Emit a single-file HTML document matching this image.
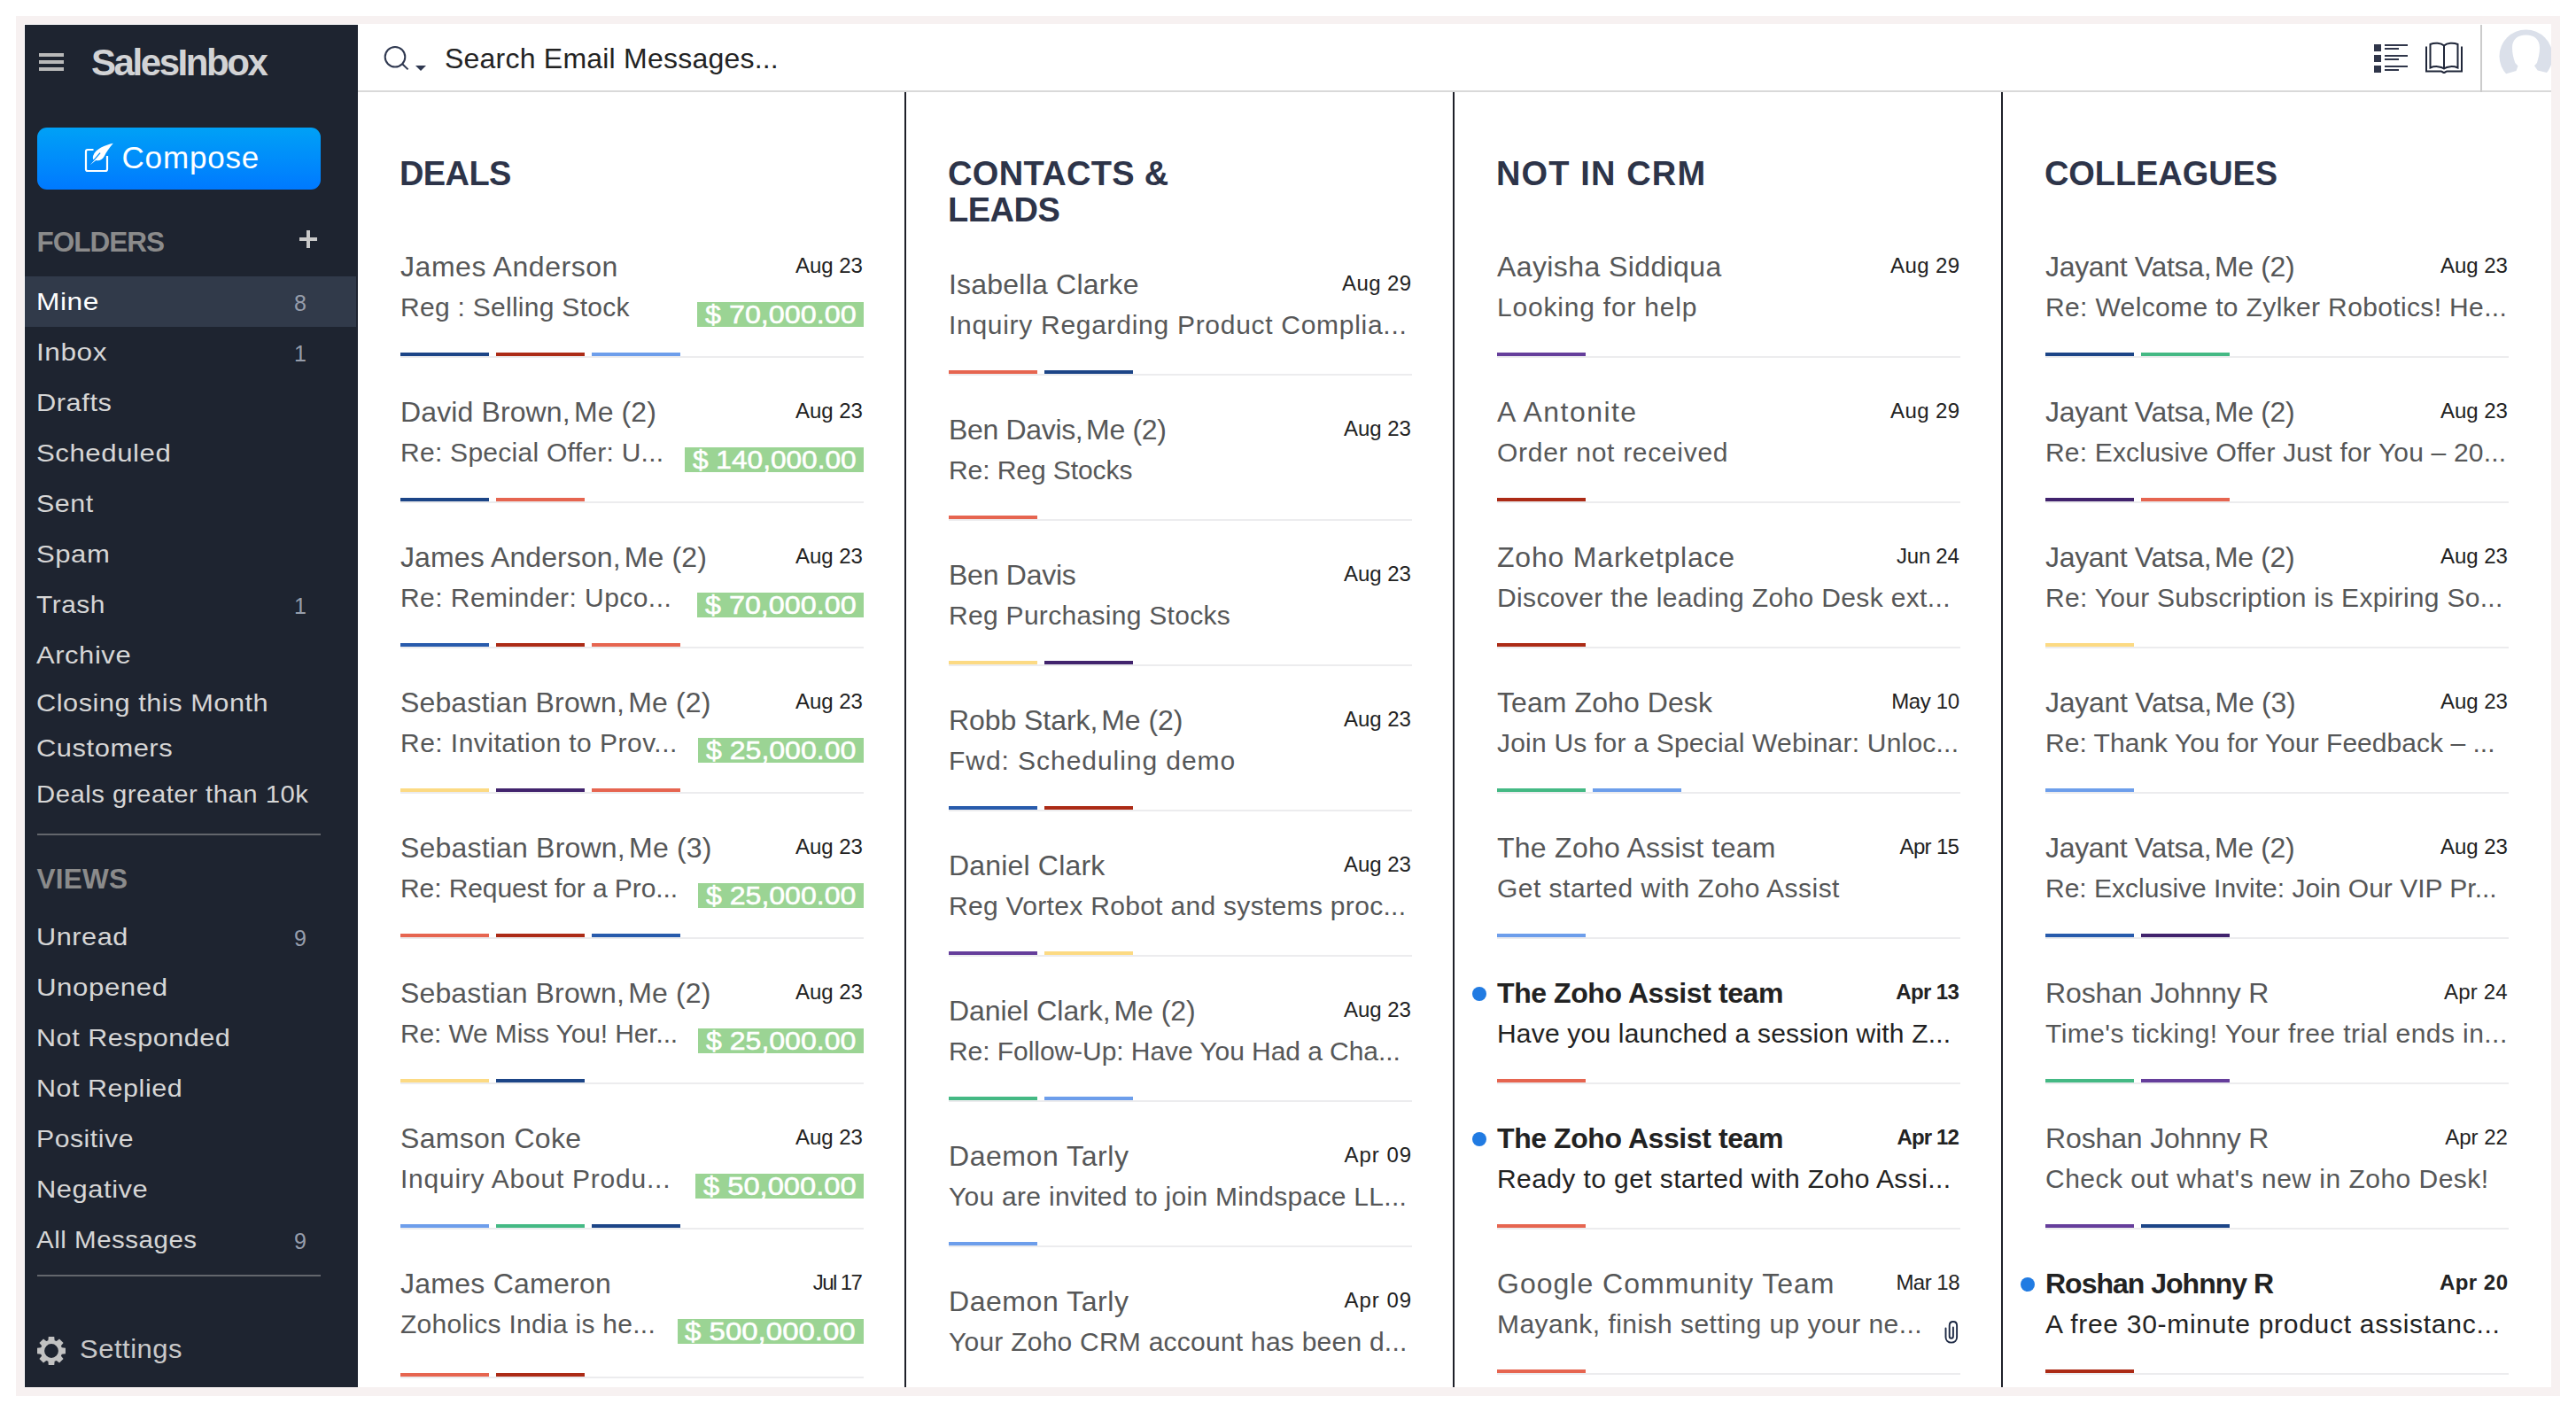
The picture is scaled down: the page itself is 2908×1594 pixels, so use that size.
<!DOCTYPE html>
<html lang="en"><head><meta charset="utf-8"><title>SalesInbox</title>
<style>
*{box-sizing:border-box}
html,body{margin:0;padding:0}
body{width:2908px;height:1594px;background:#fff;position:relative;overflow:hidden;font-family:"Liberation Sans",sans-serif}
.frame{position:absolute;left:18px;top:18px;width:2872px;height:1558px;background:#f7f1f1}
.app{position:absolute;left:0;top:0;width:2908px;height:1594px;clip-path:inset(27px 28px 28px 27px);background:#fff}
.sidebar{position:absolute;left:28px;top:28px;width:376px;height:1538px;background:#1e2430}
.t{position:absolute;white-space:nowrap;line-height:1}
.r,.abs,.dot{position:absolute}
.logo{font-size:42px;font-weight:bold;color:#d2d3d5}
.compose{position:absolute;left:42px;top:144px;width:320px;height:70px;border-radius:11px;background:linear-gradient(#00a1f6,#0079ff)}
.composeT{font-size:35px;color:#fff}
.sec{font-size:31.5px;font-weight:bold;color:#8b8b8b}
.nav{font-size:28px;color:#d6d6d6;letter-spacing:.5px;transform-origin:0 0}
.nav.on{color:#fff}
.nav.set{font-size:29px;color:#c9c9c9}
.cnt{font-size:25px;color:#969dab}
.search{font-size:32px;color:#232323}
.ttl{font-size:38px;font-weight:bold;color:#2d3449}
.nm{font-size:32px;color:#565758}
.sj{font-size:30px;color:#565758}
.dt{font-size:24px;color:#222}
.ur{font-weight:bold;color:#222}
.ur2{color:#222}
.g{word-spacing:-4.9px}
.dot{width:16px;height:16px;border-radius:8px;background:#217be2}
.amt{position:absolute;height:28px;line-height:28px;padding:0 0 0 8.5px;background:#9bd494;color:#fff;font-size:29px;white-space:nowrap;-webkit-text-stroke:.55px #fff}
.amt span{display:inline-block;transform-origin:0 50%}
</style></head>
<body>
<div class="frame"></div>
<div class="app">
<div class="sidebar"></div>
<div class="r" style="left:44px;top:60px;width:28px;height:4px;background:#b9b9b9"></div>
<div class="r" style="left:44px;top:68px;width:28px;height:4px;background:#b9b9b9"></div>
<div class="r" style="left:44px;top:76px;width:28px;height:4px;background:#b9b9b9"></div>
<div class="t logo" style="left:103px;top:50.45px;letter-spacing:-2.44px">SalesInbox</div>
<div class="compose"></div>
<svg class="abs" style="left:92px;top:158px" width="40" height="40" viewBox="92 158 40 40">
<path d="M105.5 169H99a2 2 0 0 0-2 2v20a2 2 0 0 0 2 2h20a2 2 0 0 0 2-2v-15" fill="none" stroke="#fff" stroke-width="2.2"/>
<path d="M127.8 161.8C119 163.5 107.5 168.5 105.3 175.5C104.6 177.8 104.8 179.2 105.6 180.3L112.5 172.2L113.6 172.9L102 186L108.2 180.900C111.5 182.3 115.6 180.3 117.8 176.2C120 172 123.5 166.5 127.8 161.8Z" fill="#fff"/>
</svg>
<div class="t composeT" style="left:137.5px;top:160.37px;letter-spacing:0.83px">Compose</div>
<div class="t sec" style="left:41.5px;top:258.34px;letter-spacing:-1.00px">FOLDERS</div>
<div class="r" style="left:338px;top:268px;width:20px;height:4px;background:#c9c9c9"></div>
<div class="r" style="left:346px;top:260px;width:4px;height:20px;background:#c9c9c9"></div>
<div class="r" style="left:28px;top:312px;width:374px;height:57px;background:#313a4a"></div>
<div class="t nav on" style="left:41px;top:327.00px;transform:scaleX(1.1311)">Mine</div>
<div class="t cnt" style="right:2562px;top:329.54px">8</div>
<div class="t nav" style="left:41px;top:384.00px;transform:scaleX(1.1286)">Inbox</div>
<div class="t cnt" style="right:2562px;top:386.54px">1</div>
<div class="t nav" style="left:41px;top:441.00px;transform:scaleX(1.1003)">Drafts</div>
<div class="t nav" style="left:41px;top:498.00px;transform:scaleX(1.1128)">Scheduled</div>
<div class="t nav" style="left:41px;top:555.00px;transform:scaleX(1.0872)">Sent</div>
<div class="t nav" style="left:41px;top:612.00px;transform:scaleX(1.1096)">Spam</div>
<div class="t nav" style="left:41px;top:669.00px;transform:scaleX(1.0682)">Trash</div>
<div class="t cnt" style="right:2562px;top:671.54px">1</div>
<div class="t nav" style="left:41px;top:726.00px;transform:scaleX(1.1063)">Archive</div>
<div class="t nav" style="left:41px;top:780.00px;transform:scaleX(1.0954)">Closing this Month</div>
<div class="t nav" style="left:41px;top:831.00px;transform:scaleX(1.1023)">Customers</div>
<div class="t nav" style="left:41px;top:882.50px;transform:scaleX(1.0446)">Deals greater than 10k</div>
<div class="r" style="left:42px;top:941px;width:320px;height:2px;background:#63666c"></div>
<div class="t sec" style="left:41.5px;top:977.34px;letter-spacing:0.25px">VIEWS</div>
<div class="t nav" style="left:41px;top:1044.00px;transform:scaleX(1.0950)">Unread</div>
<div class="t cnt" style="right:2562px;top:1046.54px">9</div>
<div class="t nav" style="left:41px;top:1101.00px;transform:scaleX(1.1154)">Unopened</div>
<div class="t nav" style="left:41px;top:1158.00px;transform:scaleX(1.0910)">Not Responded</div>
<div class="t nav" style="left:41px;top:1215.00px;transform:scaleX(1.0881)">Not Replied</div>
<div class="t nav" style="left:41px;top:1272.00px;transform:scaleX(1.0775)">Positive</div>
<div class="t nav" style="left:41px;top:1329.00px;transform:scaleX(1.1028)">Negative</div>
<div class="t nav" style="left:41px;top:1386.00px;transform:scaleX(1.0526)">All Messages</div>
<div class="t cnt" style="right:2562px;top:1388.54px">9</div>
<div class="r" style="left:42px;top:1439px;width:320px;height:2px;background:#63666c"></div>
<svg class="abs" style="left:38px;top:1505px" width="40" height="40" viewBox="38 1505 40 40"><path d="M54.37 1513.25 L54.76 1509.02 L61.24 1509.02 L61.63 1513.25 L63.74 1514.12 L67.01 1511.41 L71.59 1515.99 L68.88 1519.26 L69.75 1521.37 L73.98 1521.76 L73.98 1528.24 L69.75 1528.63 L68.88 1530.74 L71.59 1534.01 L67.01 1538.59 L63.74 1535.88 L61.63 1536.75 L61.24 1540.98 L54.76 1540.98 L54.37 1536.75 L52.26 1535.88 L48.99 1538.59 L44.41 1534.01 L47.12 1530.74 L46.25 1528.63 L42.02 1528.24 L42.02 1521.76 L46.25 1521.37 L47.12 1519.26 L44.41 1515.99 L48.99 1511.41 L52.26 1514.12Z M65.90 1525.00 A7.9 7.9 0 1 0 50.10 1525.00 A7.9 7.9 0 1 0 65.90 1525.00Z" fill="#c2c2c2" fill-rule="evenodd"/></svg>
<div class="t nav set" style="left:90px;top:1509.05px;transform:scaleX(1.0669)">Settings</div>
<div class="r" style="left:404px;top:102px;width:2476px;height:2px;background:#d9d9d9"></div>
<svg class="abs" style="left:430px;top:48px" width="56" height="36" viewBox="430 48 56 36">
<circle cx="446" cy="64.3" r="11.3" fill="none" stroke="#2f3850" stroke-width="2"/>
<path d="M454.2 72.3L460.6 78.4" stroke="#2f3850" stroke-width="2" fill="none"/>
<path d="M469 74H481L475 80Z" fill="#2f3850"/>
</svg>
<div class="t search" style="left:502px;top:50.41px;letter-spacing:0.22px">Search Email Messages...</div>
<div class="r" style="left:2680px;top:50px;width:8px;height:8px;background:#30364a"></div>
<div class="r" style="left:2692px;top:50px;width:26px;height:2px;background:#30364a"></div>
<div class="r" style="left:2692px;top:54px;width:16px;height:2px;background:#30364a"></div>
<div class="r" style="left:2680px;top:62px;width:8px;height:8px;background:#30364a"></div>
<div class="r" style="left:2692px;top:62px;width:26px;height:2px;background:#30364a"></div>
<div class="r" style="left:2692px;top:66px;width:16px;height:2px;background:#30364a"></div>
<div class="r" style="left:2680px;top:74px;width:8px;height:8px;background:#30364a"></div>
<div class="r" style="left:2692px;top:74px;width:26px;height:2px;background:#30364a"></div>
<div class="r" style="left:2692px;top:78px;width:16px;height:2px;background:#30364a"></div>
<svg class="abs" style="left:2734px;top:44px" width="50" height="44" viewBox="2734 44 50 44">
<g fill="none" stroke="#1f2639" stroke-width="2">
<path d="M2759 51.5C2755.5 48.3 2748.5 48 2743.5 50V76.5C2748.500 74.3 2755.5 74.8 2759 77.5C2762.5 74.8 2769.5 74.3 2774.5 76.500V50C2769.500 48 2762.5 48.300 2759 51.5Z"/>
<path d="M2759 51.5V77.5"/>
<path d="M2739 52.500V80.500H2755.500C2757.2 80.5 2757.800 82 2759 82C2760.200 82 2760.800 80.500 2762.500 80.500H2779V52.500"/>
</g></svg>
<div class="r" style="left:2800px;top:28px;width:2px;height:76px;background:#cbcbcb"></div>
<svg class="abs" style="left:2818px;top:30px" width="70" height="72" viewBox="2818 30 70 72">
<circle cx="2851.500" cy="63.500" r="30" fill="#dbe0ea"/>
<path d="M2836 54C2836 44.500 2842 39.600 2851.500 39.600C2861 39.600 2867 44.500 2867 54C2867 60 2865.500 66 2863.900 71L2861 74.300L2864.700 79.400L2875 81.900L2882 96H2820L2829.300 83.200L2840.500 80L2842.500 74.500L2839.300 71C2837.500 66 2836 60 2836 54Z" fill="#fff"/>
</svg>
<div class="r" style="left:1021px;top:104px;width:2px;height:1462px;background:#1e2029"></div>
<div class="r" style="left:1640px;top:104px;width:2px;height:1462px;background:#1e2029"></div>
<div class="r" style="left:2259px;top:104px;width:2px;height:1462px;background:#1e2029"></div>
<div class="t ttl" style="left:451px;top:176.83px;letter-spacing:-0.60px">DEALS</div>
<div class="t ttl" style="left:1070px;top:176.83px;letter-spacing:0.33px">CONTACTS &amp;</div>
<div class="t ttl" style="left:1070px;top:218.33px;letter-spacing:-0.50px">LEADS</div>
<div class="t ttl" style="left:1689px;top:176.83px;letter-spacing:1.13px">NOT IN CRM</div>
<div class="t ttl" style="left:2308px;top:176.83px;letter-spacing:-0.08px">COLLEAGUES</div>
<div class="t nm" style="left:452px;top:284.91px;letter-spacing:0.54px">James Anderson</div>
<div class="t sj" style="left:452px;top:331.61px;letter-spacing:0.28px">Reg : Selling Stock</div>
<div class="t dt" style="left:898.1px;top:287.68px;letter-spacing:-0.08px">Aug 23</div>
<div class="amt" style="right:1933px;top:341px;width:188px"><span style="transform:scaleX(1.1137)">$ 70,000.00</span></div>
<div class="r" style="left:452px;top:402px;width:523px;height:2px;background:#ececee"></div>
<div class="r" style="left:452px;top:398px;width:100px;height:4px;background:#1c4587"></div>
<div class="r" style="left:560px;top:398px;width:100px;height:4px;background:#ac2b16"></div>
<div class="r" style="left:668px;top:398px;width:100px;height:4px;background:#6d9eeb"></div>
<div class="t nm" style="left:452px;top:448.91px;letter-spacing:0.12px">David Brown,<span class="g"> </span>Me (2)</div>
<div class="t sj" style="left:452px;top:495.61px;letter-spacing:0.27px">Re: Special Offer: U...</div>
<div class="t dt" style="left:898.1px;top:451.68px;letter-spacing:-0.08px">Aug 23</div>
<div class="amt" style="right:1933px;top:505px;width:202px"><span style="transform:scaleX(1.0904)">$ 140,000.00</span></div>
<div class="r" style="left:452px;top:566px;width:523px;height:2px;background:#ececee"></div>
<div class="r" style="left:452px;top:562px;width:100px;height:4px;background:#1c4587"></div>
<div class="r" style="left:560px;top:562px;width:100px;height:4px;background:#e66550"></div>
<div class="t nm" style="left:452px;top:612.91px;letter-spacing:0.10px">James Anderson,<span class="g"> </span>Me (2)</div>
<div class="t sj" style="left:452px;top:659.61px;letter-spacing:0.45px">Re: Reminder: Upco...</div>
<div class="t dt" style="left:898.1px;top:615.68px;letter-spacing:-0.08px">Aug 23</div>
<div class="amt" style="right:1933px;top:669px;width:188px"><span style="transform:scaleX(1.1137)">$ 70,000.00</span></div>
<div class="r" style="left:452px;top:730px;width:523px;height:2px;background:#ececee"></div>
<div class="r" style="left:452px;top:726px;width:100px;height:4px;background:#285bac"></div>
<div class="r" style="left:560px;top:726px;width:100px;height:4px;background:#ac2b16"></div>
<div class="r" style="left:668px;top:726px;width:100px;height:4px;background:#e66550"></div>
<div class="t nm" style="left:452px;top:776.91px;letter-spacing:0.14px">Sebastian Brown,<span class="g"> </span>Me (2)</div>
<div class="t sj" style="left:452px;top:823.61px;letter-spacing:0.46px">Re: Invitation to Prov...</div>
<div class="t dt" style="left:898.1px;top:779.68px;letter-spacing:-0.08px">Aug 23</div>
<div class="amt" style="right:1933px;top:833px;width:186.7px"><span style="transform:scaleX(1.1053)">$ 25,000.00</span></div>
<div class="r" style="left:452px;top:894px;width:523px;height:2px;background:#ececee"></div>
<div class="r" style="left:452px;top:890px;width:100px;height:4px;background:#fcda83"></div>
<div class="r" style="left:560px;top:890px;width:100px;height:4px;background:#41236d"></div>
<div class="r" style="left:668px;top:890px;width:100px;height:4px;background:#e66550"></div>
<div class="t nm" style="left:452px;top:940.91px;letter-spacing:0.19px">Sebastian Brown,<span class="g"> </span>Me (3)</div>
<div class="t sj" style="left:452px;top:987.61px;letter-spacing:-0.09px">Re: Request for a Pro...</div>
<div class="t dt" style="left:898.1px;top:943.68px;letter-spacing:-0.08px">Aug 23</div>
<div class="amt" style="right:1933px;top:997px;width:186.7px"><span style="transform:scaleX(1.1053)">$ 25,000.00</span></div>
<div class="r" style="left:452px;top:1058px;width:523px;height:2px;background:#ececee"></div>
<div class="r" style="left:452px;top:1054px;width:100px;height:4px;background:#e66550"></div>
<div class="r" style="left:560px;top:1054px;width:100px;height:4px;background:#ac2b16"></div>
<div class="r" style="left:668px;top:1054px;width:100px;height:4px;background:#285bac"></div>
<div class="t nm" style="left:452px;top:1104.91px;letter-spacing:0.14px">Sebastian Brown,<span class="g"> </span>Me (2)</div>
<div class="t sj" style="left:452px;top:1151.61px;letter-spacing:-0.14px">Re: We Miss You! Her...</div>
<div class="t dt" style="left:898.1px;top:1107.68px;letter-spacing:-0.08px">Aug 23</div>
<div class="amt" style="right:1933px;top:1161px;width:186.7px"><span style="transform:scaleX(1.1053)">$ 25,000.00</span></div>
<div class="r" style="left:452px;top:1222px;width:523px;height:2px;background:#ececee"></div>
<div class="r" style="left:452px;top:1218px;width:100px;height:4px;background:#fcda83"></div>
<div class="r" style="left:560px;top:1218px;width:100px;height:4px;background:#1c4587"></div>
<div class="t nm" style="left:452px;top:1268.91px;letter-spacing:0.30px">Samson Coke</div>
<div class="t sj" style="left:452px;top:1315.61px;letter-spacing:0.76px">Inquiry About Produ...</div>
<div class="t dt" style="left:898.1px;top:1271.68px;letter-spacing:-0.08px">Aug 23</div>
<div class="amt" style="right:1933px;top:1325px;width:190px"><span style="transform:scaleX(1.1268)">$ 50,000.00</span></div>
<div class="r" style="left:452px;top:1386px;width:523px;height:2px;background:#ececee"></div>
<div class="r" style="left:452px;top:1382px;width:100px;height:4px;background:#6d9eeb"></div>
<div class="r" style="left:560px;top:1382px;width:100px;height:4px;background:#44b984"></div>
<div class="r" style="left:668px;top:1382px;width:100px;height:4px;background:#1c4587"></div>
<div class="t nm" style="left:452px;top:1432.91px;letter-spacing:0.25px">James Cameron</div>
<div class="t sj" style="left:452px;top:1479.61px;letter-spacing:0.27px">Zoholics India is he...</div>
<div class="t dt" style="left:917.7px;top:1435.68px;letter-spacing:-1.56px">Jul 17</div>
<div class="amt" style="right:1933px;top:1489px;width:210.1px"><span style="transform:scaleX(1.1382)">$ 500,000.00</span></div>
<div class="r" style="left:452px;top:1554px;width:523px;height:2px;background:#ececee"></div>
<div class="r" style="left:452px;top:1550px;width:100px;height:4px;background:#e66550"></div>
<div class="r" style="left:560px;top:1550px;width:100px;height:4px;background:#ac2b16"></div>
<div class="t nm" style="left:1071px;top:304.91px;letter-spacing:0.21px">Isabella Clarke</div>
<div class="t sj" style="left:1071px;top:351.61px;letter-spacing:0.71px">Inquiry Regarding Product Complia...</div>
<div class="t dt" style="left:1515px;top:307.68px;letter-spacing:0.40px">Aug 29</div>
<div class="r" style="left:1071px;top:422px;width:523px;height:2px;background:#ececee"></div>
<div class="r" style="left:1071px;top:418px;width:100px;height:4px;background:#e66550"></div>
<div class="r" style="left:1179px;top:418px;width:100px;height:4px;background:#1c4587"></div>
<div class="t nm" style="left:1071px;top:468.91px;letter-spacing:-0.33px">Ben Davis,<span class="g"> </span>Me (2)</div>
<div class="t sj" style="left:1071px;top:515.61px;letter-spacing:-0.08px">Re: Reg Stocks</div>
<div class="t dt" style="left:1517.1px;top:471.68px;letter-spacing:-0.08px">Aug 23</div>
<div class="r" style="left:1071px;top:586px;width:523px;height:2px;background:#ececee"></div>
<div class="r" style="left:1071px;top:582px;width:100px;height:4px;background:#e66550"></div>
<div class="t nm" style="left:1071px;top:632.91px;letter-spacing:-0.25px">Ben Davis</div>
<div class="t sj" style="left:1071px;top:679.61px;letter-spacing:0.30px">Reg Purchasing Stocks</div>
<div class="t dt" style="left:1517.1px;top:635.68px;letter-spacing:-0.08px">Aug 23</div>
<div class="r" style="left:1071px;top:750px;width:523px;height:2px;background:#ececee"></div>
<div class="r" style="left:1071px;top:746px;width:100px;height:4px;background:#fcda83"></div>
<div class="r" style="left:1179px;top:746px;width:100px;height:4px;background:#41236d"></div>
<div class="t nm" style="left:1071px;top:796.91px;letter-spacing:-0.06px">Robb Stark,<span class="g"> </span>Me (2)</div>
<div class="t sj" style="left:1071px;top:843.61px;letter-spacing:0.95px">Fwd: Scheduling demo</div>
<div class="t dt" style="left:1517.1px;top:799.68px;letter-spacing:-0.08px">Aug 23</div>
<div class="r" style="left:1071px;top:914px;width:523px;height:2px;background:#ececee"></div>
<div class="r" style="left:1071px;top:910px;width:100px;height:4px;background:#285bac"></div>
<div class="r" style="left:1179px;top:910px;width:100px;height:4px;background:#ac2b16"></div>
<div class="t nm" style="left:1071px;top:960.91px;letter-spacing:0.18px">Daniel Clark</div>
<div class="t sj" style="left:1071px;top:1007.61px;letter-spacing:0.31px">Reg Vortex Robot and systems proc...</div>
<div class="t dt" style="left:1517.1px;top:963.68px;letter-spacing:-0.08px">Aug 23</div>
<div class="r" style="left:1071px;top:1078px;width:523px;height:2px;background:#ececee"></div>
<div class="r" style="left:1071px;top:1074px;width:100px;height:4px;background:#653e9b"></div>
<div class="r" style="left:1179px;top:1074px;width:100px;height:4px;background:#fcda83"></div>
<div class="t nm" style="left:1071px;top:1124.91px;letter-spacing:-0.05px">Daniel Clark,<span class="g"> </span>Me (2)</div>
<div class="t sj" style="left:1071px;top:1171.61px;letter-spacing:-0.06px">Re: Follow-Up: Have You Had a Cha...</div>
<div class="t dt" style="left:1517.1px;top:1127.68px;letter-spacing:-0.08px">Aug 23</div>
<div class="r" style="left:1071px;top:1242px;width:523px;height:2px;background:#ececee"></div>
<div class="r" style="left:1071px;top:1238px;width:100px;height:4px;background:#44b984"></div>
<div class="r" style="left:1179px;top:1238px;width:100px;height:4px;background:#6d9eeb"></div>
<div class="t nm" style="left:1071px;top:1288.91px;letter-spacing:0.55px">Daemon Tarly</div>
<div class="t sj" style="left:1071px;top:1335.61px;letter-spacing:0.29px">You are invited to join Mindspace LL...</div>
<div class="t dt" style="left:1517.5px;top:1291.68px;letter-spacing:1.00px">Apr 09</div>
<div class="r" style="left:1071px;top:1406px;width:523px;height:2px;background:#ececee"></div>
<div class="r" style="left:1071px;top:1402px;width:100px;height:4px;background:#6d9eeb"></div>
<div class="t nm" style="left:1071px;top:1452.91px;letter-spacing:0.55px">Daemon Tarly</div>
<div class="t sj" style="left:1071px;top:1499.61px;letter-spacing:0.24px">Your Zoho CRM account has been d...</div>
<div class="t dt" style="left:1517.5px;top:1455.68px;letter-spacing:1.00px">Apr 09</div>
<div class="r" style="left:1071px;top:1570px;width:523px;height:2px;background:#ececee"></div>
<div class="r" style="left:1071px;top:1566px;width:100px;height:4px;background:#6d9eeb"></div>
<div class="t nm" style="left:1690px;top:284.91px;letter-spacing:0.40px">Aayisha Siddiqua</div>
<div class="t sj" style="left:1690px;top:331.61px;letter-spacing:0.80px">Looking for help</div>
<div class="t dt" style="left:2134px;top:287.68px;letter-spacing:0.40px">Aug 29</div>
<div class="r" style="left:1690px;top:402px;width:523px;height:2px;background:#ececee"></div>
<div class="r" style="left:1690px;top:398px;width:100px;height:4px;background:#653e9b"></div>
<div class="t nm" style="left:1690px;top:448.91px;letter-spacing:1.44px">A Antonite</div>
<div class="t sj" style="left:1690px;top:495.61px;letter-spacing:0.71px">Order not received</div>
<div class="t dt" style="left:2134px;top:451.68px;letter-spacing:0.40px">Aug 29</div>
<div class="r" style="left:1690px;top:566px;width:523px;height:2px;background:#ececee"></div>
<div class="r" style="left:1690px;top:562px;width:100px;height:4px;background:#ac2b16"></div>
<div class="t nm" style="left:1690px;top:612.91px;letter-spacing:0.80px">Zoho Marketplace</div>
<div class="t sj" style="left:1690px;top:659.61px;letter-spacing:0.36px">Discover the leading Zoho Desk ext...</div>
<div class="t dt" style="left:2141.1px;top:615.68px;letter-spacing:-0.28px">Jun 24</div>
<div class="r" style="left:1690px;top:730px;width:523px;height:2px;background:#ececee"></div>
<div class="r" style="left:1690px;top:726px;width:100px;height:4px;background:#ac2b16"></div>
<div class="t nm" style="left:1690px;top:776.91px;letter-spacing:0.08px">Team Zoho Desk</div>
<div class="t sj" style="left:1690px;top:823.61px;letter-spacing:0.21px">Join Us for a Special Webinar: Unloc...</div>
<div class="t dt" style="left:2135.2px;top:779.68px;letter-spacing:-0.36px">May 10</div>
<div class="r" style="left:1690px;top:894px;width:523px;height:2px;background:#ececee"></div>
<div class="r" style="left:1690px;top:890px;width:100px;height:4px;background:#44b984"></div>
<div class="r" style="left:1798px;top:890px;width:100px;height:4px;background:#6d9eeb"></div>
<div class="t nm" style="left:1690px;top:940.91px;letter-spacing:0.26px">The Zoho Assist team</div>
<div class="t sj" style="left:1690px;top:987.61px;letter-spacing:0.48px">Get started with Zoho Assist</div>
<div class="t dt" style="left:2144.6px;top:943.68px;letter-spacing:-0.68px">Apr 15</div>
<div class="r" style="left:1690px;top:1058px;width:523px;height:2px;background:#ececee"></div>
<div class="r" style="left:1690px;top:1054px;width:100px;height:4px;background:#6d9eeb"></div>
<div class="t nm ur" style="left:1690px;top:1104.91px;letter-spacing:-0.42px">The Zoho Assist team</div>
<div class="t sj ur2" style="left:1690px;top:1151.61px;letter-spacing:0.19px">Have you launched a session with Z...</div>
<div class="t dt ur" style="left:2140.3px;top:1107.68px;letter-spacing:-0.64px">Apr 13</div>
<div class="dot" style="left:1662px;top:1114px"></div>
<div class="r" style="left:1690px;top:1222px;width:523px;height:2px;background:#ececee"></div>
<div class="r" style="left:1690px;top:1218px;width:100px;height:4px;background:#e66550"></div>
<div class="t nm ur" style="left:1690px;top:1268.91px;letter-spacing:-0.42px">The Zoho Assist team</div>
<div class="t sj ur2" style="left:1690px;top:1315.61px;letter-spacing:0.41px">Ready to get started with Zoho Assi...</div>
<div class="t dt ur" style="left:2141.6px;top:1271.68px;letter-spacing:-0.88px">Apr 12</div>
<div class="dot" style="left:1662px;top:1278px"></div>
<div class="r" style="left:1690px;top:1386px;width:523px;height:2px;background:#ececee"></div>
<div class="r" style="left:1690px;top:1382px;width:100px;height:4px;background:#e66550"></div>
<div class="t nm" style="left:1690px;top:1432.91px;letter-spacing:1.00px">Google Community Team</div>
<div class="t sj" style="left:1690px;top:1479.61px;letter-spacing:0.46px">Mayank, finish setting up your ne...</div>
<div class="t dt" style="left:2140.4px;top:1435.68px;letter-spacing:-0.52px">Mar 18</div>
<svg class="abs" style="left:2191px;top:1486px" width="24" height="34" viewBox="0 0 24 34"><path d="M5.500 13.500V23.500C5.500 27.200 8.300 29.600 11.800 29.600C15.300 29.600 18.100 27.200 18.100 23.500V10.500C18.100 7.800 16.300 6 13.900 6C11.500 6 9.700 7.800 9.700 10.500V22.500C9.700 23.900 10.600 24.800 11.800 24.800C13 24.800 13.900 23.900 13.900 22.500V12.500" fill="none" stroke="#1e2a45" stroke-width="1.900" stroke-linecap="round"/></svg>
<div class="r" style="left:1690px;top:1550px;width:523px;height:2px;background:#ececee"></div>
<div class="r" style="left:1690px;top:1546px;width:100px;height:4px;background:#e66550"></div>
<div class="t nm" style="left:2309px;top:284.91px;letter-spacing:-0.33px">Jayant Vatsa,<span class="g"> </span>Me (2)</div>
<div class="t sj" style="left:2309px;top:331.61px;letter-spacing:0.36px">Re: Welcome to Zylker Robotics! He...</div>
<div class="t dt" style="left:2755.1px;top:287.68px;letter-spacing:-0.08px">Aug 23</div>
<div class="r" style="left:2309px;top:402px;width:523px;height:2px;background:#ececee"></div>
<div class="r" style="left:2309px;top:398px;width:100px;height:4px;background:#1c4587"></div>
<div class="r" style="left:2417px;top:398px;width:100px;height:4px;background:#44b984"></div>
<div class="t nm" style="left:2309px;top:448.91px;letter-spacing:-0.33px">Jayant Vatsa,<span class="g"> </span>Me (2)</div>
<div class="t sj" style="left:2309px;top:495.61px;letter-spacing:0.18px">Re: Exclusive Offer Just for You – 20...</div>
<div class="t dt" style="left:2755.1px;top:451.68px;letter-spacing:-0.08px">Aug 23</div>
<div class="r" style="left:2309px;top:566px;width:523px;height:2px;background:#ececee"></div>
<div class="r" style="left:2309px;top:562px;width:100px;height:4px;background:#41236d"></div>
<div class="r" style="left:2417px;top:562px;width:100px;height:4px;background:#e66550"></div>
<div class="t nm" style="left:2309px;top:612.91px;letter-spacing:-0.33px">Jayant Vatsa,<span class="g"> </span>Me (2)</div>
<div class="t sj" style="left:2309px;top:659.61px;letter-spacing:0.29px">Re: Your Subscription is Expiring So...</div>
<div class="t dt" style="left:2755.1px;top:615.68px;letter-spacing:-0.08px">Aug 23</div>
<div class="r" style="left:2309px;top:730px;width:523px;height:2px;background:#ececee"></div>
<div class="r" style="left:2309px;top:726px;width:100px;height:4px;background:#fcda83"></div>
<div class="t nm" style="left:2309px;top:776.91px;letter-spacing:-0.28px">Jayant Vatsa,<span class="g"> </span>Me (3)</div>
<div class="t sj" style="left:2309px;top:823.61px;letter-spacing:0.03px">Re: Thank You for Your Feedback – ...</div>
<div class="t dt" style="left:2755.1px;top:779.68px;letter-spacing:-0.08px">Aug 23</div>
<div class="r" style="left:2309px;top:894px;width:523px;height:2px;background:#ececee"></div>
<div class="r" style="left:2309px;top:890px;width:100px;height:4px;background:#6d9eeb"></div>
<div class="t nm" style="left:2309px;top:940.91px;letter-spacing:-0.33px">Jayant Vatsa,<span class="g"> </span>Me (2)</div>
<div class="t sj" style="left:2309px;top:987.61px;letter-spacing:0.00px">Re: Exclusive Invite: Join Our VIP Pr...</div>
<div class="t dt" style="left:2755.1px;top:943.68px;letter-spacing:-0.08px">Aug 23</div>
<div class="r" style="left:2309px;top:1058px;width:523px;height:2px;background:#ececee"></div>
<div class="r" style="left:2309px;top:1054px;width:100px;height:4px;background:#285bac"></div>
<div class="r" style="left:2417px;top:1054px;width:100px;height:4px;background:#41236d"></div>
<div class="t nm" style="left:2309px;top:1104.91px;letter-spacing:-0.14px">Roshan Johnny R</div>
<div class="t sj" style="left:2309px;top:1151.61px;letter-spacing:0.44px">Time's ticking! Your free trial ends in...</div>
<div class="t dt" style="left:2759px;top:1107.68px;letter-spacing:0.20px">Apr 24</div>
<div class="r" style="left:2309px;top:1222px;width:523px;height:2px;background:#ececee"></div>
<div class="r" style="left:2309px;top:1218px;width:100px;height:4px;background:#44b984"></div>
<div class="r" style="left:2417px;top:1218px;width:100px;height:4px;background:#653e9b"></div>
<div class="t nm" style="left:2309px;top:1268.91px;letter-spacing:-0.14px">Roshan Johnny R</div>
<div class="t sj" style="left:2309px;top:1315.61px;letter-spacing:0.48px">Check out what's new in Zoho Desk!</div>
<div class="t dt" style="left:2760.3px;top:1271.68px;letter-spacing:-0.04px">Apr 22</div>
<div class="r" style="left:2309px;top:1386px;width:523px;height:2px;background:#ececee"></div>
<div class="r" style="left:2309px;top:1382px;width:100px;height:4px;background:#653e9b"></div>
<div class="r" style="left:2417px;top:1382px;width:100px;height:4px;background:#1c4587"></div>
<div class="t nm ur" style="left:2309px;top:1432.91px;letter-spacing:-1.00px">Roshan Johnny R</div>
<div class="t sj ur2" style="left:2309px;top:1479.61px;letter-spacing:0.72px">A free 30-minute product assistanc...</div>
<div class="t dt ur" style="left:2753.9px;top:1435.68px;letter-spacing:0.48px">Apr 20</div>
<div class="dot" style="left:2281px;top:1442px"></div>
<div class="r" style="left:2309px;top:1550px;width:523px;height:2px;background:#ececee"></div>
<div class="r" style="left:2309px;top:1546px;width:100px;height:4px;background:#ac2b16"></div>
</div>
</body></html>
